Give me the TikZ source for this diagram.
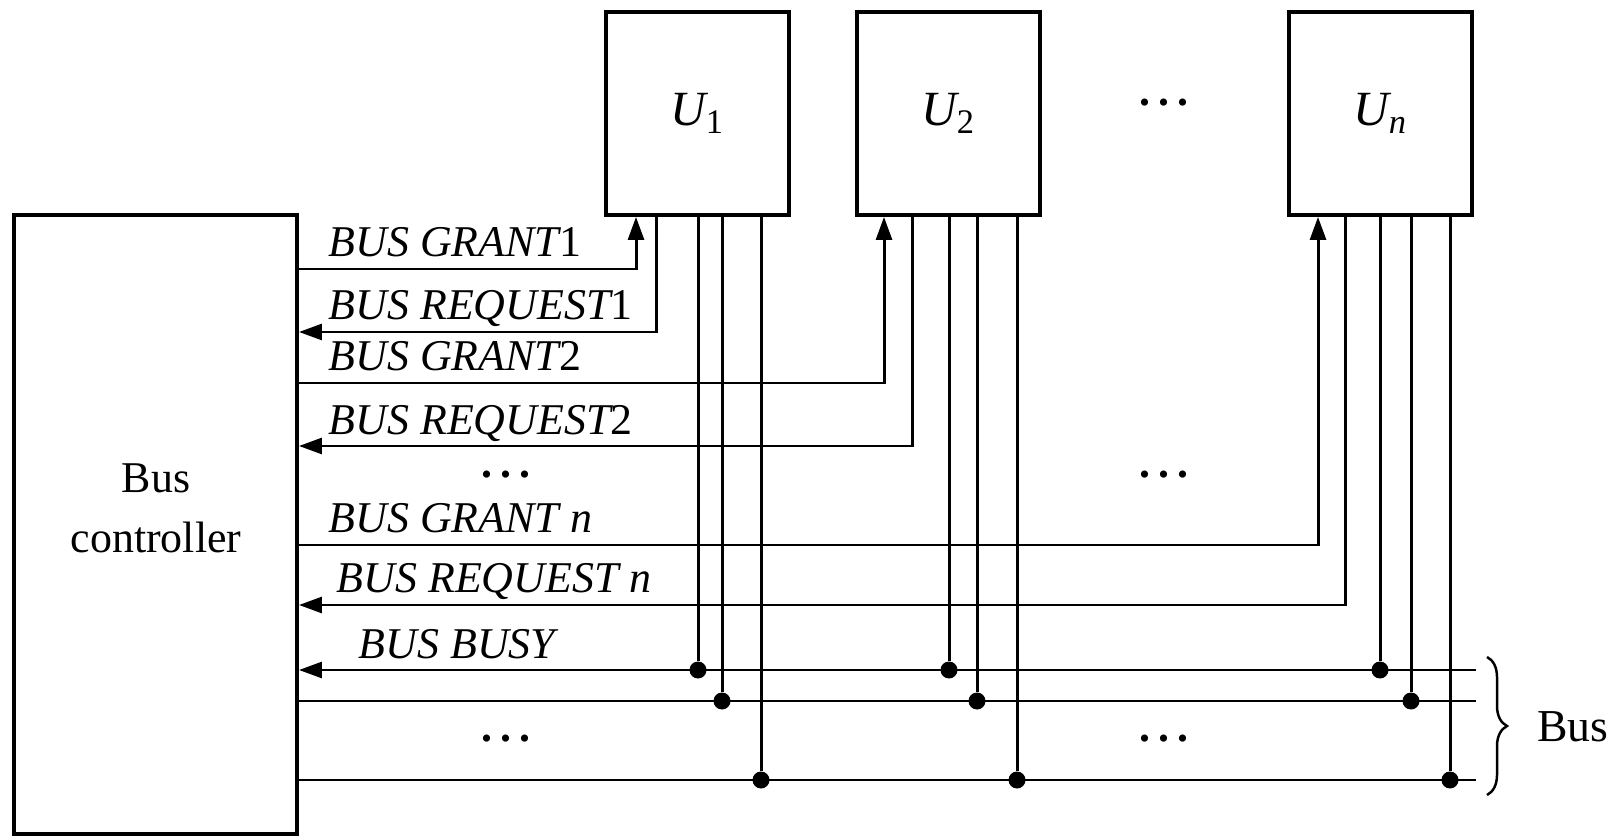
\documentclass[tikz,border=0pt]{standalone}
\usepackage{fontspec}
\setmainfont{Liberation Serif}
\usetikzlibrary{arrows.meta, positioning, decorations.pathreplacing}

\newcommand{\gapdots}{\textbf{.\kern2.4pt.\kern2.4pt.}}

\tikzset{
  unitbox/.style={draw, line width=1.1pt, minimum width=1.83cm, minimum height=2.03cm, inner sep=0pt, font=\fontsize{14}{16}\selectfont\itshape},
  sig/.style={line width=0.85pt},
  siglabel/.style={anchor=base west, inner sep=0pt, font=\fontsize{12.5}{14}\selectfont\itshape},
  tap/.style={circle, fill, inner sep=0pt, minimum size=1.7mm},
  gap/.style={inner sep=0pt, font=\fontsize{12.5}{14}\selectfont},
}

\begin{document}
\begin{tikzpicture}[x=0.1mm, y=-0.1mm, >={Triangle[length=6.5pt, width=4.5pt]}]
\useasboundingbox (0,0) rectangle (1618,837);
% Controller and units
\node[draw, line width=1.1pt, minimum width=2.83cm, minimum height=6.19cm] (ctrl) at (155.5,524.5) {};
\node[align=center, font=\fontsize{12.5}{17}\selectfont] (ctrltext) at (156,508) {Bus\\controller};
\node[unitbox] (u1) at (697.5,113.5) {U\textsubscript{\upshape 1}};
\node[unitbox] (u2) at (948.5,113.5) {U\textsubscript{\upshape 2}};
\node[unitbox] (un) at (1380.5,113.5) {U\textsubscript{n}};
\node[gap] (dotsU) at (1164,103) {\gapdots};
% Grant and request corners
\coordinate (g1) at (636,269);
\coordinate (r1) at (656,332);
\coordinate (g2) at (884,383);
\coordinate (r2) at (912,446);
\coordinate (gn) at (1318,545);
\coordinate (rn) at (1345,605);
\draw[sig, ->] (ctrl.east |- g1) -- (g1) -- (g1 |- u1.south);
\draw[sig, ->] (r1 |- u1.south) -- (r1) -- (ctrl.east |- r1);
\draw[sig, ->] (ctrl.east |- g2) -- (g2) -- (g2 |- u2.south);
\draw[sig, ->] (r2 |- u2.south) -- (r2) -- (ctrl.east |- r2);
\draw[sig, ->] (ctrl.east |- gn) -- (gn) -- (gn |- un.south);
\draw[sig, ->] (rn |- un.south) -- (rn) -- (ctrl.east |- rn);
\node[siglabel] (lg1) at (328,257) {BUS GRANT\upshape 1};
\node[siglabel] (lr1) at (328,320) {BUS REQUEST\upshape 1};
\node[siglabel] (lg2) at (328,371) {BUS GRANT\upshape 2};
\node[siglabel] (lr2) at (328,434) {BUS REQUEST\upshape 2};
\node[siglabel] (lgn) at (328,533) {BUS GRANT n};
\node[siglabel] (lrn) at (336,593) {BUS REQUEST n};
\node[siglabel] (lbusy) at (358,658) {BUS BUSY};
\node[gap] (dotsA) at (506,475) {\gapdots};
\node[gap] (dotsB) at (1164,475) {\gapdots};
% Bus lines
\coordinate (busyend) at (1476,670);
\coordinate (linebend) at (1476,701);
\coordinate (linecend) at (1476,780);
\draw[sig, <-] (ctrl.east |- busyend) -- (busyend);
\draw[sig] (ctrl.east |- linebend) -- (linebend);
\draw[sig] (ctrl.east |- linecend) -- (linecend);
\node[gap] (dotsC) at (506,739) {\gapdots};
\node[gap] (dotsD) at (1164,739) {\gapdots};
% Taps of each unit
\node[tap] (t11) at (698,670) {};
\node[tap] (t12) at (722,701) {};
\node[tap] (t13) at (761,780) {};
\node[tap] (t21) at (949,670) {};
\node[tap] (t22) at (977,701) {};
\node[tap] (t23) at (1017,780) {};
\node[tap] (tn1) at (1380,670) {};
\node[tap] (tn2) at (1411,701) {};
\node[tap] (tn3) at (1450,780) {};
\draw[sig] (u1.south -| t11) -- (t11);
\draw[sig] (u1.south -| t12) -- (t12);
\draw[sig] (u1.south -| t13) -- (t13);
\draw[sig] (u2.south -| t21) -- (t21);
\draw[sig] (u2.south -| t22) -- (t22);
\draw[sig] (u2.south -| t23) -- (t23);
\draw[sig] (un.south -| tn1) -- (tn1);
\draw[sig] (un.south -| tn2) -- (tn2);
\draw[sig] (un.south -| tn3) -- (tn3);
% Brace
\draw[decorate, decoration={brace, amplitude=2mm}, line width=0.7pt] (1487,657) -- (1487,795);
\node[font=\fontsize{13}{15}\selectfont, inner sep=0pt] (buslabel) at (1573,727) {Bus};
\end{tikzpicture}
\end{document}
